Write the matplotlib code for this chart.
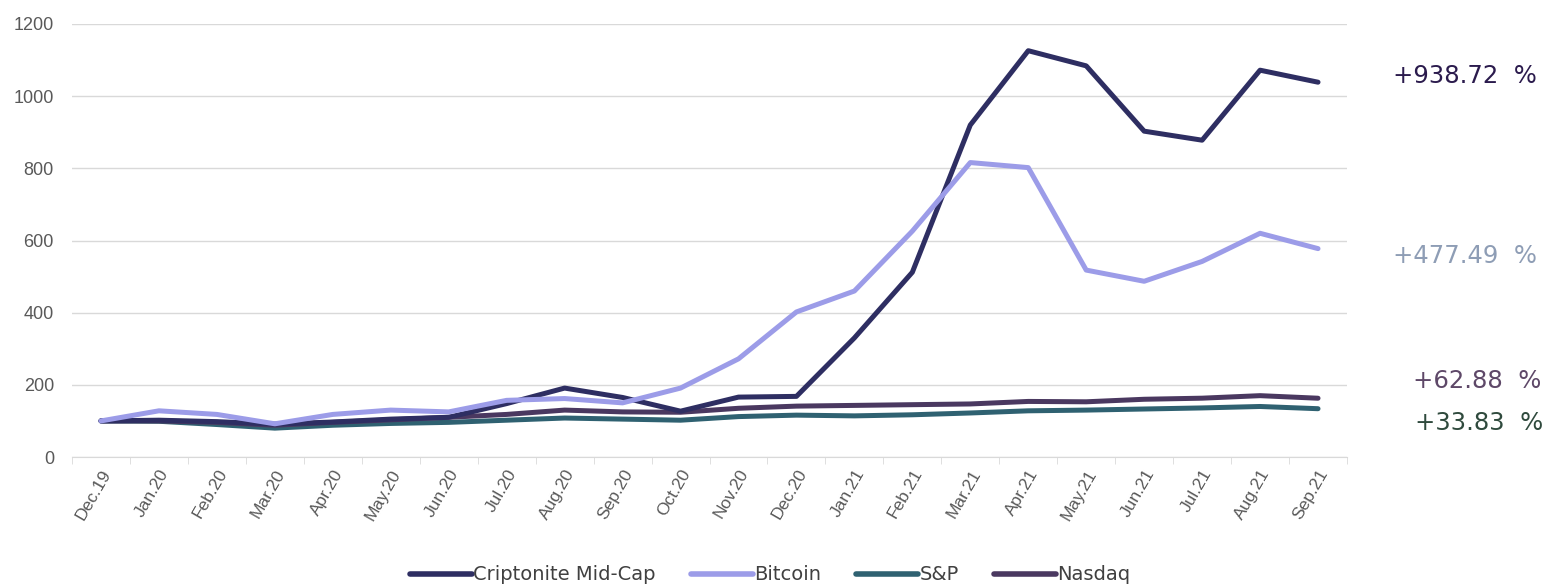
import numpy as np
import matplotlib.pyplot as plt

plt.rcParams['font.family'] = ['Liberation Sans', 'DejaVu Sans']

months = ["Dec.19", "Jan.20", "Feb.20", "Mar.20", "Apr.20", "May.20", "Jun.20",
          "Jul.20", "Aug.20", "Sep.20", "Oct.20", "Nov.20", "Dec.20", "Jan.21",
          "Feb.21", "Mar.21", "Apr.21", "May.21", "Jun.21", "Jul.21", "Aug.21", "Sep.21"]

cripto = [100, 102, 98, 91, 97, 105, 110, 148, 191, 165, 127, 166, 168, 330,
          512, 920, 1126, 1084, 903, 878, 1072, 1038.72]
bitcoin = [100, 128, 118, 92, 118, 130, 125, 157, 162, 150, 191, 272, 402, 460,
           626, 816, 802, 518, 487, 542, 620, 577.49]
sp = [100, 99, 90, 80, 88, 93, 96, 102, 108, 105, 102, 112, 116, 114,
      117, 122, 128, 130, 133, 136, 140, 133.83]
nasdaq = [100, 100, 96, 88, 96, 103, 110, 118, 130, 125, 124, 135, 141, 143,
          145, 147, 154, 153, 160, 163, 170, 162.88]

labels = ["+938.72  %", "+477.49  %", "+62.88  %", "+33.83  %"]

fig = plt.figure(figsize=(15.44, 5.84), dpi=100)
ax = fig.add_axes([72 / 1544, 1 - 457 / 584, 1275 / 1544, 433 / 584])

x = np.arange(len(months))
lw = 3.6
ax.plot(x, sp, color="#2F6171", lw=lw, label="S&P", zorder=2, solid_capstyle="round")
ax.plot(x, nasdaq, color="#4A3860", lw=lw, label="Nasdaq", zorder=3, solid_capstyle="round")
ax.plot(x, cripto, color="#2E2E62", lw=lw, label="Criptonite Mid-Cap", zorder=4, solid_capstyle="round")
ax.plot(x, bitcoin, color="#9C9CE8", lw=lw, label="Bitcoin", zorder=5, solid_capstyle="round")

ax.set_xlim(-0.5, len(months) - 0.5)
ax.set_ylim(0, 1200)
ax.set_yticks(range(0, 1201, 200))
ax.grid(axis="y", color="#D9D9D9", lw=1)
ax.set_axisbelow(True)
for s in ["top", "right", "left"]:
    ax.spines[s].set_visible(False)
ax.spines["bottom"].set_color("#D9D9D9")
ax.tick_params(axis="y", length=0, labelsize=13, labelcolor="#595959", pad=13)

ax.set_xticks(x)
ax.set_xticklabels(months, rotation=60, ha="right", rotation_mode="anchor",
                   fontsize=12.5, color="#595959")
ax.set_xticks(np.arange(-0.5, len(months), 1), minor=True)
ax.tick_params(axis="x", which="major", length=0, pad=7)
ax.tick_params(axis="x", which="minor", length=5, color="#D9D9D9")

# end-of-line percentages
pct_font = ["DejaVu Sans"]
fig.text(1537 / 1544, 1 - 76 / 584, labels[0], ha="right", va="center",
         fontsize=17.5, color="#2B1B4D", family=pct_font)
fig.text(1537 / 1544, 1 - 256 / 584, labels[1], ha="right", va="center",
         fontsize=17.5, color="#8E9DB5", family=pct_font)
fig.text(1541 / 1544, 1 - 381 / 584, labels[2], ha="right", va="center",
         fontsize=17.5, color="#5E4868", family=pct_font)
fig.text(1543 / 1544, 1 - 423 / 584, labels[3], ha="right", va="center",
         fontsize=17.5, color="#2F4A3D", family=pct_font)

handles, names = ax.get_legend_handles_labels()
order = [2, 3, 0, 1]
leg = fig.legend([handles[i] for i in order], [names[i] for i in order],
                 loc="center", bbox_to_anchor=(770 / 1544, 1 - 575 / 584),
                 ncol=4, frameon=False, handlelength=3.2,
                 handletextpad=0.05, columnspacing=1.8,
                 prop={"family": ["Liberation Sans Narrow", "DejaVu Sans"], "size": 14})
for h in leg.get_lines():
    h.set_linewidth(4)
for t in leg.get_texts():
    t.set_color("#404040")

fig.savefig("out.png", dpi=100)
